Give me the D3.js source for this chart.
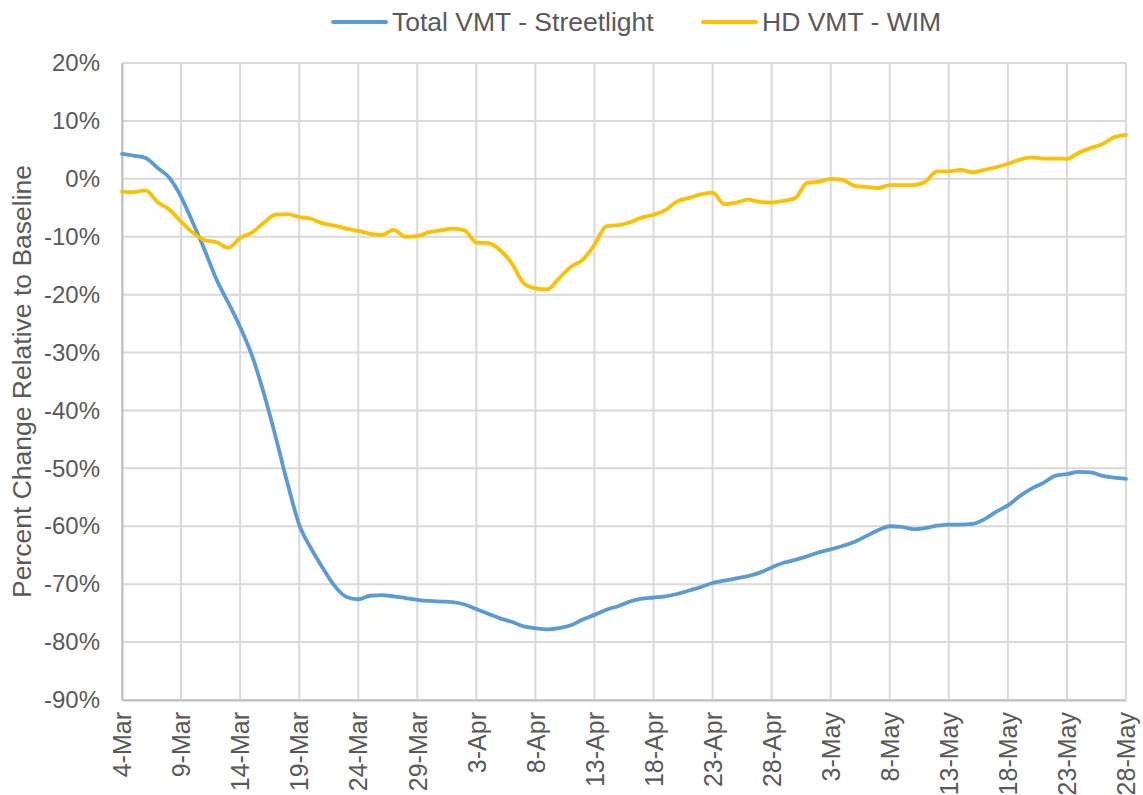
<!DOCTYPE html>
<html>
<head>
<meta charset="utf-8">
<script src="https://cdn.jsdelivr.net/npm/d3@7"></script>
<style>
  body { margin: 0; background: #fff; }
  text { font-family: "Liberation Sans", Arial, sans-serif; fill: #595959; }
</style>
</head>
<body>
<div id="chart"></div>
<script>
// daily values, 4-Mar .. 28-May (86 days), percent change relative to baseline
var streetlight = [4.3, 4.0, 3.6, 1.9, 0.2, -3.1, -7.6, -12.3, -17.4, -21.4,
  -25.6, -30.5, -37, -44.5, -52.5, -59.7, -63.8, -67.2, -70.3, -72.2,
  -72.6, -72.0, -71.9, -72.1, -72.4, -72.7, -72.9, -73.0, -73.1, -73.5,
  -74.3, -75.1, -75.9, -76.5, -77.3, -77.6, -77.8, -77.6, -77.1, -76.1,
  -75.3, -74.4, -73.8, -73.0, -72.5, -72.3, -72.1, -71.7, -71.1, -70.5,
  -69.8, -69.4, -69.0, -68.6, -68.0, -67.1, -66.3, -65.8, -65.2, -64.5,
  -64.0, -63.4, -62.7, -61.7, -60.7, -60.0, -60.1, -60.5, -60.3, -59.9,
  -59.7, -59.7, -59.6, -58.8, -57.5, -56.4, -54.8, -53.5, -52.5, -51.3,
  -51.0, -50.6, -50.7, -51.3, -51.6, -51.8];

var wim = [-2.2, -2.3, -2.0, -4.0, -5.3, -7.4, -9.3, -10.6, -10.95, -11.9,
  -10.2, -9.3, -7.6, -6.2, -6.1, -6.6, -6.9, -7.7, -8.1, -8.6,
  -9.0, -9.5, -9.7, -8.8, -10.0, -9.9, -9.2, -8.9, -8.6, -8.9,
  -11.0, -11.1, -12.3, -14.6, -18.0, -18.9, -19.1, -17.2, -15.2, -14.0,
  -11.4, -8.2, -8.0, -7.5, -6.7, -6.2, -5.4, -3.9, -3.3, -2.7,
  -2.4, -4.4, -4.1, -3.6, -4.0, -4.1, -3.8, -3.3, -0.7, -0.5,
  0.0, -0.2, -1.2, -1.4, -1.6, -1.1, -1.1, -1.1, -0.5, 1.3,
  1.3, 1.55, 1.1, 1.55, 2.0, 2.6, 3.3, 3.7, 3.5, 3.5,
  3.45, 4.5, 5.3, 6.0, 7.2, 7.6];

var tickLabels = ["4-Mar", "9-Mar", "14-Mar", "19-Mar", "24-Mar", "29-Mar",
  "3-Apr", "8-Apr", "13-Apr", "18-Apr", "23-Apr", "28-Apr",
  "3-May", "8-May", "13-May", "18-May", "23-May", "28-May"];

var yTicks = [20, 10, 0, -10, -20, -30, -40, -50, -60, -70, -80, -90];

var seriesNames = ["Total VMT - Streetlight", "HD VMT - WIM"];
var seriesColors = ["#5B9BD5", "#FFC000"];

var margin = {top: 63, right: 17, bottom: 95, left: 122},
    width = 1143 - margin.left - margin.right,
    height = 795 - margin.top - margin.bottom;

var svg = d3.select("#chart")
    .append("svg")
    .attr("width", 1143)
    .attr("height", 795);

var g = svg.append("g")
    .attr("transform", "translate(" + margin.left + "," + margin.top + ")");

var x = d3.scaleLinear()
    .domain([0, streetlight.length - 1])
    .range([0, width]);

var y = d3.scaleLinear()
    .domain([-90, 20])
    .range([height, 0]);

var xTickVals = tickLabels.map(function(d, i) { return i * 5; });

// gridlines
g.append("g")
  .selectAll("line.h")
  .data(yTicks)
  .enter().append("line")
  .attr("x1", 0).attr("x2", width)
  .attr("y1", function(d) { return y(d); })
  .attr("y2", function(d) { return y(d); })
  .attr("stroke", "#d9d9d9")
  .attr("stroke-width", 2);

g.append("g")
  .selectAll("line.v")
  .data(xTickVals)
  .enter().append("line")
  .attr("x1", function(d) { return x(d); })
  .attr("x2", function(d) { return x(d); })
  .attr("y1", 0).attr("y2", height)
  .attr("stroke", "#d9d9d9")
  .attr("stroke-width", 2);

// axes
var yAxis = g.append("g")
  .call(d3.axisLeft(y).tickValues(yTicks).tickSize(0).tickPadding(22)
    .tickFormat(function(d) { return d + "%"; }));
yAxis.select(".domain").attr("stroke", "#bfbfbf").attr("stroke-width", 2);
yAxis.selectAll("text").style("font-size", "24px").attr("fill", "#595959");

var xAxis = g.append("g")
  .attr("transform", "translate(0," + height + ")")
  .call(d3.axisBottom(x).tickValues(xTickVals).tickSize(0)
    .tickFormat(function(d, i) { return tickLabels[i]; }));
xAxis.select(".domain").attr("stroke", "#bfbfbf").attr("stroke-width", 2);
xAxis.selectAll("text")
  .style("font-size", "25px")
  .attr("fill", "#595959")
  .attr("transform", "rotate(-90)")
  .attr("text-anchor", "end")
  .attr("dy", "0.35em")
  .attr("x", -12)
  .attr("y", 0);

// y title
svg.append("text")
  .attr("transform", "translate(22," + (margin.top + height / 2) + ") rotate(-90)")
  .attr("text-anchor", "middle")
  .attr("dy", "0.35em")
  .style("font-size", "26.5px")
  .text("Percent Change Relative to Baseline");

// lines
var line = d3.line()
  .x(function(d, i) { return x(i); })
  .y(function(d) { return y(d); })
  .curve(d3.curveMonotoneX);

[streetlight, wim].forEach(function(s, k) {
  g.append("path")
    .datum(s)
    .attr("fill", "none")
    .attr("stroke", seriesColors[k])
    .attr("stroke-width", 3.8)
    .attr("stroke-linejoin", "round")
    .attr("stroke-linecap", "round")
    .attr("d", line);
});

// legend
var legendX = [333, 703];
seriesNames.forEach(function(name, k) {
  svg.append("line")
    .attr("x1", legendX[k]).attr("x2", legendX[k] + 53)
    .attr("y1", 22).attr("y2", 22)
    .attr("stroke", seriesColors[k])
    .attr("stroke-width", 4)
    .attr("stroke-linecap", "round");
  svg.append("text")
    .attr("x", legendX[k] + 59)
    .attr("y", 22)
    .attr("dy", "0.35em")
    .style("font-size", "26.5px")
    .text(name);
});
</script>
</body>
</html>
